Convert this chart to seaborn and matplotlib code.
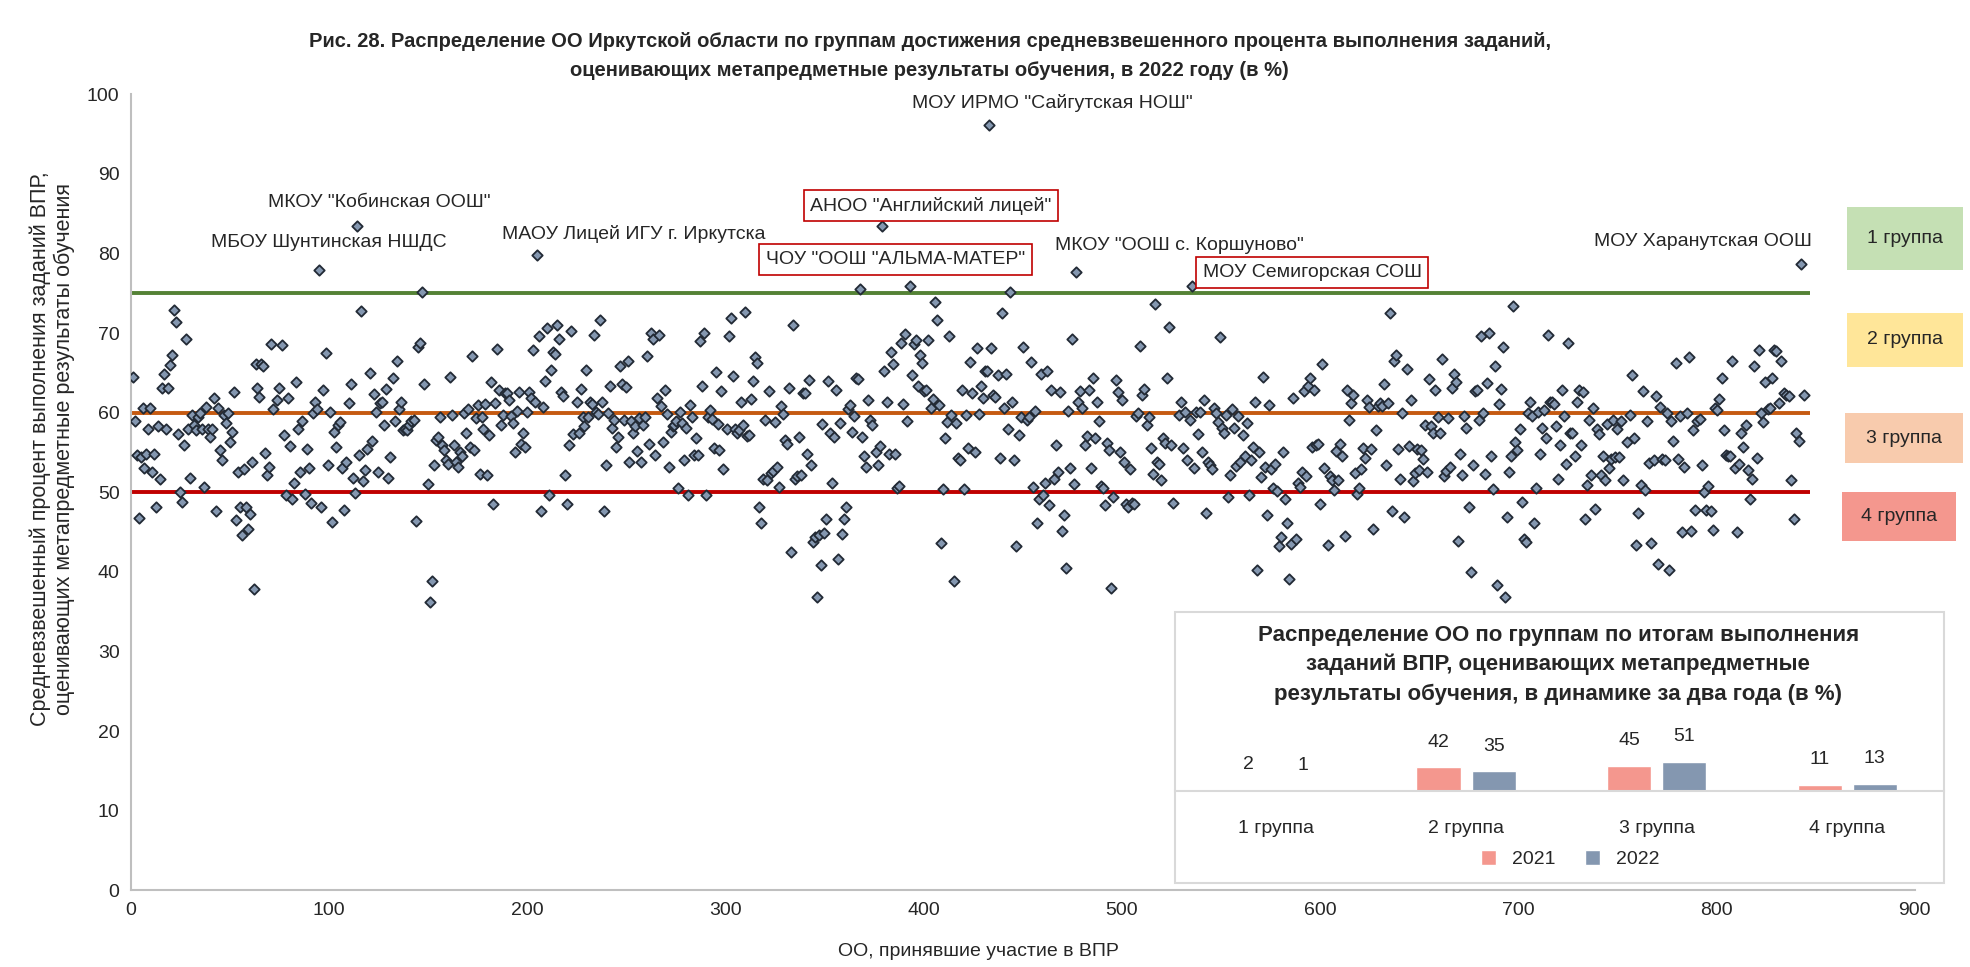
import numpy as np
import pandas as pd
import matplotlib
matplotlib.use('Agg')
import matplotlib.pyplot as plt
from matplotlib.patches import Rectangle
import seaborn as sns

sns.set_theme(style='white')
plt.rcParams['font.family'] = ['Liberation Sans', 'DejaVu Sans']

oo_001_072 = [64.5, 59, 54.7, 46.8, 54.4, 60.6, 53.1, 54.8, 58, 60.6, 52.5, 54.8, 48.1, 58.3, 51.7,
              63.1, 64.9, 58, 63.1, 66, 67.2, 72.9, 71.4, 57.3, 50, 48.8, 56, 69.3, 57.9, 51.8,
              59.7, 58.4, 57.8, 59.4, 60, 58, 50.7, 60.7, 57.9, 56.9, 58, 61.8, 47.6, 60.6, 55.3,
              54.1, 59.7, 58.7, 60, 56.3, 57.6, 62.6, 46.5, 52.6, 48.1, 44.6, 52.9, 48.1, 45.4,
              47.3, 53.8, 37.9, 66.1, 63.1, 62, 66.1, 65.9, 54.9, 52.2, 53.2, 68.6, 60.4]
oo_074_148 = [61.6, 63.1, 68.5, 57.2, 49.7, 61.8, 55.8, 49.1, 51.2, 63.8, 58, 52.5, 59, 49.8, 55.4,
              53.1, 48.7, 60, 61.4, 60.5, 77.9, 48.1, 62.8, 67.5, 53.4, 60.1, 46.3, 57.6, 55.7,
              58.4, 58.8, 53.1, 47.8, 53.8, 61.2, 63.6, 51.8, 49.9, 83.4, 54.7, 72.8, 51.4, 52.8,
              55.5, 65, 56.5, 62.4, 60.1, 52.5, 61.2, 61.4, 58.5, 63, 51.8, 54.4, 64.3, 59, 66.5,
              60.5, 61.3, 57.8, 58, 57.8, 58.4, 58.9, 59.1, 46.4, 68.2, 68.8, 75.2, 63.6]
oo_150_223 = [51.1, 36.2, 38.8, 53.4, 56.6, 56.9, 59.4, 55.9, 55.3, 54, 53.6, 64.5, 59.7, 55.9, 53.8,
              53.2, 55.1, 54.5, 60, 57.5, 60.4, 55.7, 67.1, 55.3, 59.3, 61, 52.3, 59.4, 57.9, 61.1,
              52.2, 57.2, 63.8, 48.5, 61.2, 68, 62.9, 58.4, 59.7, 62.5, 62.5, 61.6, 59.6, 58.7,
              55.1, 60.2, 62.6, 56.1, 57.4, 55.7, 60.1, 62.6, 61.9, 67.9, 61.4, 79.8, 69.6, 47.6,
              60.7, 64, 70.6, 49.7, 65.4, 67.6, 67.4, 71, 69.3, 62.6, 62.1, 52.2, 48.5, 55.9, 70.3,
              57.3]
oo_225_299 = [61.4, 57.5, 63, 59.4, 58.3, 65.4, 59.4, 61.3, 61.1, 69.8, 60.1, 59.8, 71.6, 61.4, 47.7,
              53.4, 60, 63.4, 58.1, 59.1, 55.7, 56.9, 65.9, 63.6, 59.1, 63.2, 66.5, 53.8, 59, 57.5,
              58.3, 55.2, 59.3, 53.8, 58.4, 59.5, 67.1, 56.1, 70, 69.2, 54.7, 61.9, 69.7, 60.8,
              56.3, 62.9, 59.8, 53.2, 57.6, 58.3, 58.4, 58.9, 50.5, 60.1, 58.7, 54.1, 58.1, 49.6,
              61, 59.4, 54.7, 56.8, 54.7, 69, 63.3, 70, 49.6, 59.4, 60.3, 59.2, 55.6, 65.1, 58.6,
              55.3, 62.7, 52.9]
oo_301_374 = [57.9, 69.6, 71.9, 64.6, 57.9, 57.4, 57.8, 61.4, 58.4, 72.7, 57.1, 57.2, 61.7, 64, 67,
              66.3, 48.2, 46.2, 51.7, 59.1, 51.6, 62.7, 52.4, 52.7, 58.8, 53.2, 50.7, 60.9, 59.8,
              56.6, 56.1, 63.1, 42.5, 71, 51.7, 52.1, 56.9, 52.2, 62.5, 62.5, 54.8, 64.1, 53.4,
              43.7, 44.4, 36.8, 44.6, 40.9, 58.6, 44.9, 46.6, 64, 57.4, 51.2, 56.9, 62.8, 41.6,
              58.7, 44.8, 46.6, 48.1, 60.4, 61, 57.6, 59.6, 64.4, 64.2, 75.5, 57, 54.5, 53.2, 61.6,
              59.1, 58.5]
oo_376_450 = [55, 53.4, 55.8, 83.5, 65.2, 61.3, 54.8, 67.6, 66.1, 54.8, 50.6, 50.8, 68.8, 61.1, 69.9,
              59, 75.9, 64.7, 68.6, 69.1, 63.3, 67.3, 66.2, 62.7, 62.8, 69.1, 60.6, 61.7, 73.9,
              71.6, 61, 43.6, 50.4, 56.8, 58.8, 69.6, 59.7, 38.9, 58.7, 54.3, 54.1, 62.8, 50.4,
              59.7, 55.6, 66.4, 62.5, 55, 68.1, 59.8, 63.4, 61.8, 65.2, 65.2, 96.1, 68.1, 62.2, 62,
              64.7, 54.3, 72.5, 60.6, 64.8, 58, 75.2, 61.4, 54, 43.3, 57.2, 59.4, 68.2]
oo_452_526 = [59.1, 59.4, 66.4, 50.7, 60.2, 46.1, 49.1, 64.9, 49.7, 51.2, 65.2, 48.4, 62.8, 51.7, 55.9,
              52.5, 62.6, 45.1, 47.1, 40.5, 60.2, 53.1, 69.3, 51.1, 77.7, 61.4, 62.7, 60.6, 55.9,
              57.1, 62.8, 53.1, 64.4, 56.8, 61.3, 58.9, 50.8, 50.5, 48.4, 56.2, 55.3, 38, 49.4,
              64.1, 62.6, 55, 61.6, 53.8, 48.5, 48.2, 52.9, 48.6, 48.5, 59.6, 59.9, 68.4, 62.2, 63,
              58.4, 59.4, 55.6, 52.3, 73.7, 53.8, 53.6, 51.5, 56.8, 56.2, 64.4, 70.8, 56, 48.7]
oo_529_602 = [59.7, 61.4, 55.6, 60.1, 54, 59.1, 75.9, 53, 60.1, 57.3, 60.1, 55, 61.6, 47.4, 53.8,
              53.4, 52.9, 60.6, 60, 58.8, 69.5, 58.1, 57.5, 59.7, 49.4, 52.2, 60.4, 58.1, 53.3,
              59.6, 53.8, 57.2, 54.6, 58.7, 49.7, 54.1, 55.7, 61.4, 40.3, 55.1, 51.9, 64.5, 53.2,
              47.2, 61, 52.9, 50.6, 53.5, 50.2, 43.2, 44.4, 55, 49.1, 46.1, 39.1, 43.5, 61.9, 44.1,
              51.2, 50.7, 52.5, 62.7, 52.1, 63.4, 64.3, 55.7, 62.8, 56, 56.1, 48.5, 66.1, 53]
oo_604_678 = [43.4, 52.1, 51.5, 50.3, 55.2, 51.6, 56.1, 54.5, 44.5, 62.9, 59.1, 61.2, 62.2, 52.4, 49.8,
              50.5, 52.9, 55.6, 54.3, 61.6, 60.7, 55.4, 45.4, 57.8, 60.8, 61.2, 60.9, 63.6, 53.4,
              61.2, 72.5, 47.7, 66.5, 67.3, 55.5, 51.7, 60, 46.9, 65.5, 55.8, 61.6, 51.4, 52.4,
              55.5, 52.8, 55.3, 54.2, 58.4, 52.5, 64.2, 58.3, 57.5, 62.9, 59.4, 57.4, 66.7, 52,
              52.7, 59.3, 53.2, 63.1, 64.8, 63.8, 43.9, 54.8, 52.2, 59.6, 58.1, 48.1, 40, 53.4, 62.7]
oo_679_753 = [62.8, 59.1, 69.6, 60, 52.3, 63.7, 70, 54.6, 50.4, 65.9, 38.3, 61.1, 63, 68.3, 36.9,
              46.9, 52.5, 54.5, 73.4, 56.3, 55.3, 57.9, 48.8, 44.1, 43.8, 60, 61.3, 59.6, 46.2,
              50.6, 60.1, 54.8, 58.1, 60.3, 56.8, 69.8, 61.3, 61.3, 61.1, 58.3, 51.7, 56, 62.8,
              59.6, 53.6, 68.8, 57.4, 57.5, 54.6, 61.3, 62.8, 55.9, 62.6, 46.6, 50.9, 59.1, 52.2,
              60.6, 47.9, 57.9, 57.3, 52.2, 54.6, 51.6, 58.6, 53, 54.2, 59.1, 54.4, 58, 54.4, 58.9,
              51.6]
oo_755_829 = [56.3, 59.7, 64.7, 56.8, 43.4, 47.4, 50.9, 62.7, 50.3, 59, 53.7, 43.6, 54.1, 62.1, 41,
              60.7, 54.2, 54.1, 59.9, 40.3, 59, 56.5, 66.2, 54.2, 59.6, 45, 53.2, 60, 67, 45.1,
              57.8, 47.8, 58.9, 59.2, 53.4, 50, 47.8, 50.8, 47.6, 45.3, 60.6, 60.3, 61.7, 64.3,
              57.8, 54.7, 54.5, 54.6, 66.5, 53, 45, 53.5, 57.4, 55.7, 58.4, 52.8, 49.2, 51.7, 65.9,
              54.3, 67.9, 60, 58.8, 63.8, 60.4, 60.6, 64.3, 67.9]
oo_830_844 = [67.8, 61.2, 66.5, 62.5, 62.2, 62.1, 51.5, 46.7, 57.5, 56.4, 78.7, 62.2]

blocks = [(1, 72, oo_001_072), (74, 148, oo_074_148), (150, 223, oo_150_223),
          (225, 299, oo_225_299), (301, 374, oo_301_374), (376, 450, oo_376_450),
          (452, 526, oo_452_526), (529, 602, oo_529_602), (604, 678, oo_604_678),
          (679, 753, oo_679_753), (755, 829, oo_755_829), (830, 844, oo_830_844)]

# границы групп
n_oo = 847
group_levels = [75, 60, 50]
group_line_colors = ['#548235', '#C55A11', '#C00000']

# подписи отдельных ОО: текст, x, y, в рамке
oo_labels = [
    ('МБОУ Шунтинская НШДС', 100, 81.4, False),
    ('МКОУ "Кобинская ООШ"', 125.5, 86.4, False),
    ('МАОУ Лицей ИГУ г. Иркутска', 254, 82.5, False),
    ('АНОО "Английский лицей"', 403.7, 86.0, True),
    ('ЧОУ "ООШ "АЛЬМА-МАТЕР"', 386, 79.2, True),
    ('МОУ ИРМО "Сайгутская НОШ"', 465, 98.9, False),
    ('МКОУ "ООШ с. Коршуново"', 529, 81.0, False),
    ('МОУ Семигорская СОШ', 596, 77.6, True),
    ('МОУ Харанутская ООШ', 793, 81.5, False),
]

# вставка: распределение по группам за два года
groups = ['1 группа', '2 группа', '3 группа', '4 группа']
share_2021 = [2, 42, 45, 11]
share_2022 = [1, 35, 51, 13]
years = ['2021', '2022']
year_colors = ['#F4978E', '#8497B0']

group_box_colors = ['#C5E0B4', '#FFE699', '#F8CBAD', '#F4978E']

x_vals = np.concatenate([np.linspace(a, b, len(v)) for a, b, v in blocks])
y_vals = np.concatenate([v for a, b, v in blocks])
df = pd.DataFrame({'oo': x_vals, 'pct': y_vals})

fig = plt.figure(figsize=(19.7, 9.67), dpi=100)
ax = fig.add_axes([0.0663, 0.0792, 0.9057, 0.8234])

for lvl, col in zip(group_levels, group_line_colors):
    ax.hlines(lvl, 0, n_oo, colors=col, linewidth=2.8, zorder=1)

sns.scatterplot(data=df, x='oo', y='pct', marker='D', s=28, color='#8497B0',
                edgecolor='#222A35', linewidth=1.3, ax=ax, zorder=3)

ax.set_xlim(0, 900)
ax.set_ylim(0, 100)
ax.set_xticks(range(0, 901, 100))
ax.set_yticks(range(0, 101, 10))
ax.tick_params(labelsize=14, length=0, pad=8)
for side in ['top', 'right']:
    ax.spines[side].set_visible(False)
for side in ['left', 'bottom']:
    ax.spines[side].set_color('#BFBFBF')
    ax.spines[side].set_linewidth(1.5)
ax.set_xlabel('ОО, принявшие участие в ВПР', fontsize=14)
ax.xaxis.set_label_coords(0.475, -0.066)
ax.set_ylabel('Средневзвешенный процент выполнения заданий ВПР,\n'
              'оценивающих метапредметные результаты обучения', fontsize=15.5)
ax.yaxis.set_label_coords(-0.031, 0.555)

for text, tx, ty, boxed in oo_labels:
    kw = {}
    if boxed:
        kw['bbox'] = dict(boxstyle='square,pad=0.35', fc='white', ec='#C00000', lw=1.2)
    ax.text(tx, ty, text, ha='center', va='center', fontsize=14, zorder=5, **kw)

fig.text(0.472, 0.967,
         'Рис. 28. Распределение ОО Иркутской области по группам достижения средневзвешенного '
         'процента выполнения заданий,\nоценивающих метапредметные результаты обучения, в 2022 году (в %)',
         ha='center', va='top', fontsize=14.5, fontweight='bold', linespacing=1.7)

# плашки групп справа
box_pos = [(0.9375, 0.7208, 0.0587, 0.0649), (0.9375, 0.6208, 0.0587, 0.0558),
           (0.9368, 0.5208, 0.0594, 0.0519), (0.9349, 0.4403, 0.0581, 0.0506)]
for g, col, (bx, by, bw, bh) in zip(groups, group_box_colors, box_pos):
    fig.add_artist(Rectangle((bx, by), bw, bh, transform=fig.transFigure,
                             fc=col, ec='none', zorder=2))
    fig.text(bx + bw / 2, by + bh / 2, g, ha='center', va='center', fontsize=14, zorder=3)

# рамка вставки
fig.add_artist(Rectangle((0.5963, 0.087), 0.3907, 0.2805, transform=fig.transFigure,
                         fc='white', ec='#D9D9D9', lw=1.5, zorder=2))
fig.text(0.791, 0.354,
         'Распределение ОО по группам по итогам выполнения\n'
         'заданий ВПР, оценивающих метапредметные\n'
         'результаты обучения, в динамике за два года (в %)',
         ha='center', va='top', fontsize=16, fontweight='bold', linespacing=1.5, zorder=3)

bars = pd.DataFrame({'group': groups * 2,
                     'share': share_2021 + share_2022,
                     'year': [years[0]] * 4 + [years[1]] * 4})
ax_bar = fig.add_axes([0.5963, 0.182, 0.3907, 0.117])
ax_bar.set_zorder(3)
ax_bar.patch.set_alpha(0)
sns.barplot(data=bars, x='group', y='share', hue='year', palette=year_colors,
            saturation=1, width=0.58, gap=0.2, ax=ax_bar)
for cont in ax_bar.containers:
    ax_bar.bar_label(cont, padding=12, fontsize=14)
ax_bar.set_xlim(-0.53, 3.51)
ax_bar.set_ylim(0, 200)
ax_bar.set_yticks([])
ax_bar.set_xlabel('')
ax_bar.set_ylabel('')
ax_bar.tick_params(axis='x', length=0, pad=21, labelsize=14)
for side in ['top', 'right', 'left']:
    ax_bar.spines[side].set_visible(False)
ax_bar.spines['bottom'].set_color('#D9D9D9')
ax_bar.spines['bottom'].set_linewidth(1.5)
sns.move_legend(ax_bar, 'center', bbox_to_anchor=(0.797, 0.1117),
                bbox_transform=fig.transFigure, ncol=2, frameon=False, title=None,
                fontsize=14, handlelength=0.8, handleheight=0.8, columnspacing=1.5)

fig.savefig('out.png', dpi=100)
